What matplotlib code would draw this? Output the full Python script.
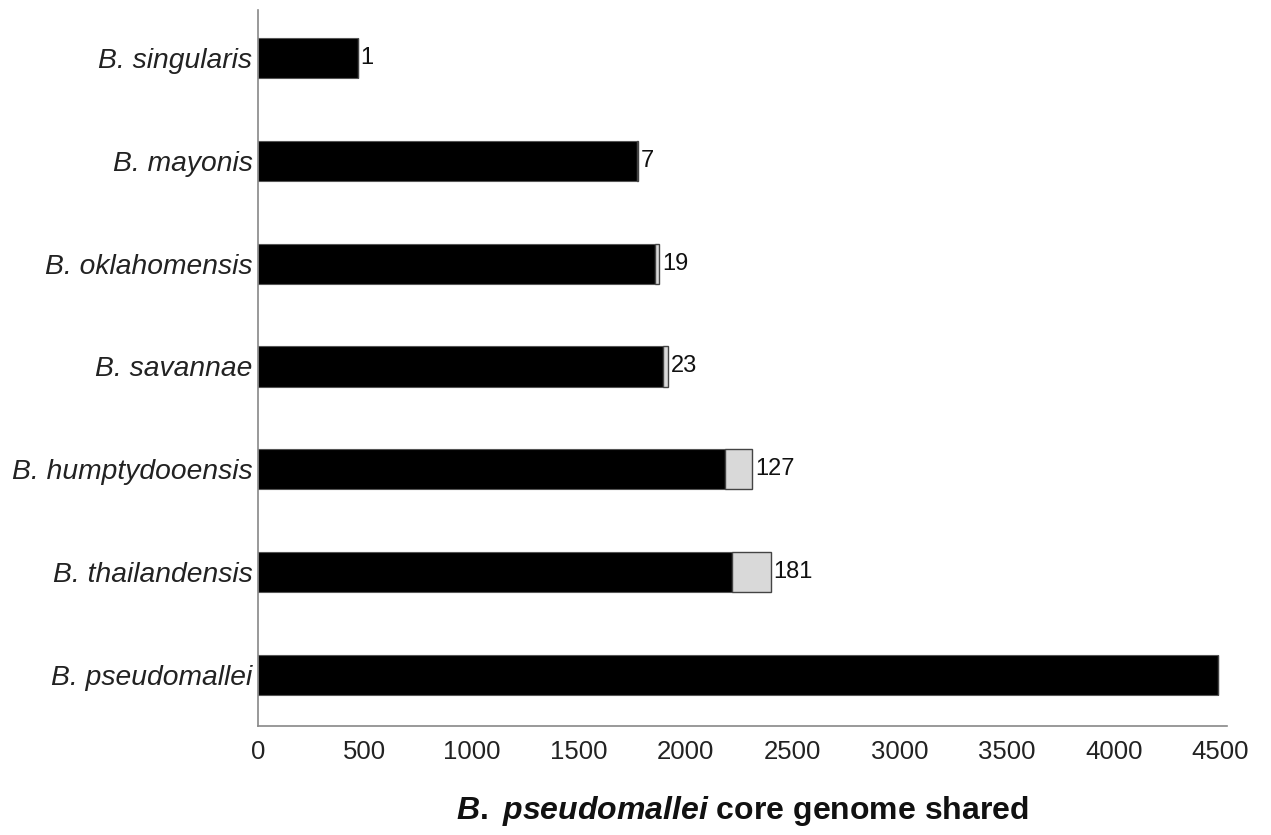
import matplotlib.pyplot as plt

species = ["B. pseudomallei", "B. thailandensis", "B. humptydooensis", "B. savannae",
           "B. oklahomensis", "B. mayonis", "B. singularis"]
shared = [4490, 2217, 2184, 1895, 1857, 1770, 467]
extra = [0, 181, 127, 23, 19, 7, 1]

plt.rcParams['font.family'] = ['Liberation Sans', 'DejaVu Sans']
plt.rcParams['mathtext.fontset'] = 'custom'
plt.rcParams['mathtext.it'] = 'Liberation Sans:bold:italic'
plt.rcParams['mathtext.rm'] = 'Liberation Sans:bold'

fig = plt.figure(figsize=(12.71, 8.35), dpi=100)
ax = fig.add_axes([0.203, 0.1305, 0.7624, 0.8575])

y = list(range(len(species)))
ax.barh(y, shared, height=0.39, color="black", edgecolor="#555555", linewidth=0.8)
ax.barh(y, extra, left=shared, height=0.39, color="#d9d9d9", edgecolor="#444444", linewidth=1.0)

for yi, s, e in zip(y, shared, extra):
    if e > 0:
        ax.text(s + e + 12, yi, str(e), va="center", ha="left", fontsize=17, color="#111111")

ax.set_xlim(0, 4530)
ax.set_ylim(-0.5, len(species) - 0.53)
ax.set_xticks(range(0, 4501, 500))
ax.set_yticks(y)
ax.set_yticklabels(species, fontstyle="italic", fontsize=20.3)
ax.tick_params(axis="both", length=0, colors="#222222")
ax.tick_params(axis="x", labelsize=18.5, pad=10)
ax.tick_params(axis="y", pad=4)

for side in ["top", "right"]:
    ax.spines[side].set_visible(False)
for side in ["left", "bottom"]:
    ax.spines[side].set_color("#888888")
    ax.spines[side].set_linewidth(1.2)

ax.set_xlabel(r"$B.$ $pseudomallei$ core genome shared", fontsize=23,
              fontweight="bold", labelpad=22, color="#111111")

fig.savefig("out.png", dpi=100)
